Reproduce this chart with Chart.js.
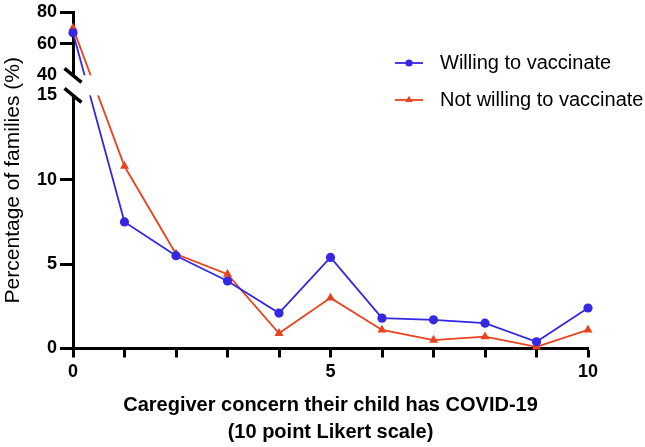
<!DOCTYPE html>
<html><head><meta charset="utf-8">
<script src="https://cdn.jsdelivr.net/npm/chart.js@4.4.1/dist/chart.umd.min.js"></script>
<style>html,body{margin:0;padding:0;background:#fff}#wrap{width:645px;height:447px}</style>
</head><body><div id="wrap"><canvas id="c" width="645" height="447"></canvas></div>
<script>
// ---- data ----
const concernLevels = [0, 1, 2, 3, 4, 5, 6, 7, 8, 9, 10];
const willingPct    = [66.9, 7.5, 5.5, 4.0, 2.1, 5.4, 1.8, 1.7, 1.5, 0.4, 2.4];
const notWillingPct = [70.0, 10.8, 5.6, 4.4, 0.9, 3.0, 1.1, 0.5, 0.7, 0.1, 1.1];
const seriesNames   = ['Willing to vaccinate', 'Not willing to vaccinate'];
const yTickValues   = [0, 5, 10, 15, 40, 60, 80];
const xTickLabels   = [0, 5, 10];
const xAxisTitle    = ['Caregiver concern their child has COVID-19', '(10 point Likert scale)'];
const yAxisTitle    = 'Percentage of families (%)';

// ---- broken y axis (0-15 lower segment, 40-80 upper segment) ----
const LOWER_MAX = 15, UPPER_MIN = 40, UPPER_MAX = 80;
const GAP = 1.19, UPPER_SCALE = 0.0938;
function toAxis(v) { return v <= LOWER_MAX ? v : LOWER_MAX + GAP + (v - UPPER_MIN) * UPPER_SCALE; }
function fromAxis(a) { return a <= LOWER_MAX ? a : UPPER_MIN + (a - LOWER_MAX - GAP) / UPPER_SCALE; }

class BrokenLinearScale extends Chart.LinearScale {
  buildTicks() { return yTickValues.map(v => ({ value: v })); }
  getPixelForValue(v) { return super.getPixelForValue(v == null ? v : toAxis(v)); }
  getValueForPixel(p) { return fromAxis(super.getValueForPixel(p)); }
}
BrokenLinearScale.id = 'brokenLinear';
BrokenLinearScale.defaults = Chart.LinearScale.defaults;
Chart.register(BrokenLinearScale);

const FONT = "'Liberation Sans', Arial, Helvetica, sans-serif";
const BLUE = '#3428E2';
const RED = '#E8421F';

const axisBreak = {
  id: 'axisBreak',
  afterDatasetsDraw(chart) {
    const y = chart.scales.y, ctx = chart.ctx;
    const yUp = y.getPixelForValue(UPPER_MIN), yLo = y.getPixelForValue(LOWER_MAX);
    const ax = y.right;
    ctx.save();
    ctx.fillStyle = '#fff';
    ctx.fillRect(ax - 3, yUp, chart.chartArea.right - ax + 3, yLo - yUp);
    ctx.strokeStyle = '#000'; ctx.lineWidth = 3.5; ctx.lineCap = 'butt';
    [yUp, yLo].forEach(yy => {
      ctx.beginPath(); ctx.moveTo(ax - 8.5, yy - 7); ctx.lineTo(ax + 8.5, yy + 7); ctx.stroke();
    });
    ctx.restore();
  }
};

const manualLegend = {
  id: 'manualLegend',
  afterDraw(chart) {
    const ctx = chart.ctx;
    const x0 = 395, x1 = 423, tx = 440, rows = [63, 100];
    chart.data.datasets.forEach((ds, i) => {
      const yy = rows[i], cx = (x0 + x1) / 2;
      ctx.save();
      ctx.strokeStyle = ds.borderColor; ctx.lineWidth = ds.borderWidth;
      ctx.beginPath(); ctx.moveTo(x0, yy); ctx.lineTo(x1, yy); ctx.stroke();
      ctx.fillStyle = ds.pointBackgroundColor;
      ctx.beginPath();
      if (ds.pointStyle === 'triangle') {
        const r = 4.2;
        ctx.moveTo(cx, yy - r); ctx.lineTo(cx + r * 0.866, yy + r * 0.5); ctx.lineTo(cx - r * 0.866, yy + r * 0.5); ctx.closePath();
      } else {
        ctx.arc(cx, yy, 3.6, 0, Math.PI * 2);
      }
      ctx.fill();
      ctx.fillStyle = '#000'; ctx.font = '20px ' + FONT; ctx.textBaseline = 'middle'; ctx.textAlign = 'left';
      ctx.fillText(ds.label, tx, yy);
      ctx.restore();
    });
  }
};

new Chart(document.getElementById('c'), {
  type: 'line',
  data: {
    labels: concernLevels,
    datasets: [
      { label: seriesNames[0], data: concernLevels.map((x, i) => ({ x, y: willingPct[i] })),
        borderColor: BLUE, backgroundColor: BLUE, pointBackgroundColor: BLUE, pointBorderWidth: 0,
        borderWidth: 1.8, pointStyle: 'circle', pointRadius: 4.6, tension: 0, clip: false },
      { label: seriesNames[1], data: concernLevels.map((x, i) => ({ x, y: notWillingPct[i] })),
        borderColor: RED, backgroundColor: RED, pointBackgroundColor: RED, pointBorderWidth: 0,
        borderWidth: 1.8, pointStyle: 'triangle', pointRadius: 5.2, tension: 0, clip: false }
    ]
  },
  options: {
    responsive: false, animation: false, devicePixelRatio: 1,
    layout: { padding: { top: 10, right: 57, left: 0, bottom: 0 } },
    plugins: { legend: { display: false }, tooltip: { enabled: false } },
    scales: {
      x: {
        type: 'linear', min: 0, max: 10, position: 'bottom',
        afterFit: s => { s.height = 98.5; },
        border: { width: 3, color: '#000' },
        grid: { drawOnChartArea: false, drawTicks: true, tickLength: 9, tickWidth: 3, tickColor: '#000' },
        ticks: { stepSize: 1, autoSkip: false, maxRotation: 0, padding: 6, color: '#000',
          font: { family: FONT, size: 18, weight: 'bold', lineHeight: 1 },
          callback: v => xTickLabels.includes(v) ? String(v) : '' },
        title: { display: true, text: xAxisTitle, color: '#000',
          font: { family: FONT, size: 20, weight: 'bold', lineHeight: 1.35 }, padding: { top: 0, bottom: 1 } }
      },
      y: {
        type: 'brokenLinear', min: 0, max: toAxis(UPPER_MAX), position: 'left',
        afterFit: s => { s.width = 73; },
        border: { width: 3, color: '#000' },
        grid: { drawOnChartArea: false, drawTicks: true, tickLength: 13, tickWidth: 3,
          tickColor: c => (c.tick && (c.tick.value === LOWER_MAX || c.tick.value === UPPER_MIN)) ? 'rgba(0,0,0,0)' : '#000' },
        ticks: { padding: 3, color: '#000', font: { family: FONT, size: 18, weight: 'bold', lineHeight: 1 },
          callback: v => String(v) },
        title: { display: true, text: yAxisTitle, color: '#000',
          font: { family: FONT, size: 21, weight: 'normal', lineHeight: 1.2 }, padding: { top: 1, bottom: 0 } }
      }
    }
  },
  plugins: [axisBreak, manualLegend]
});
</script>
</body></html>
